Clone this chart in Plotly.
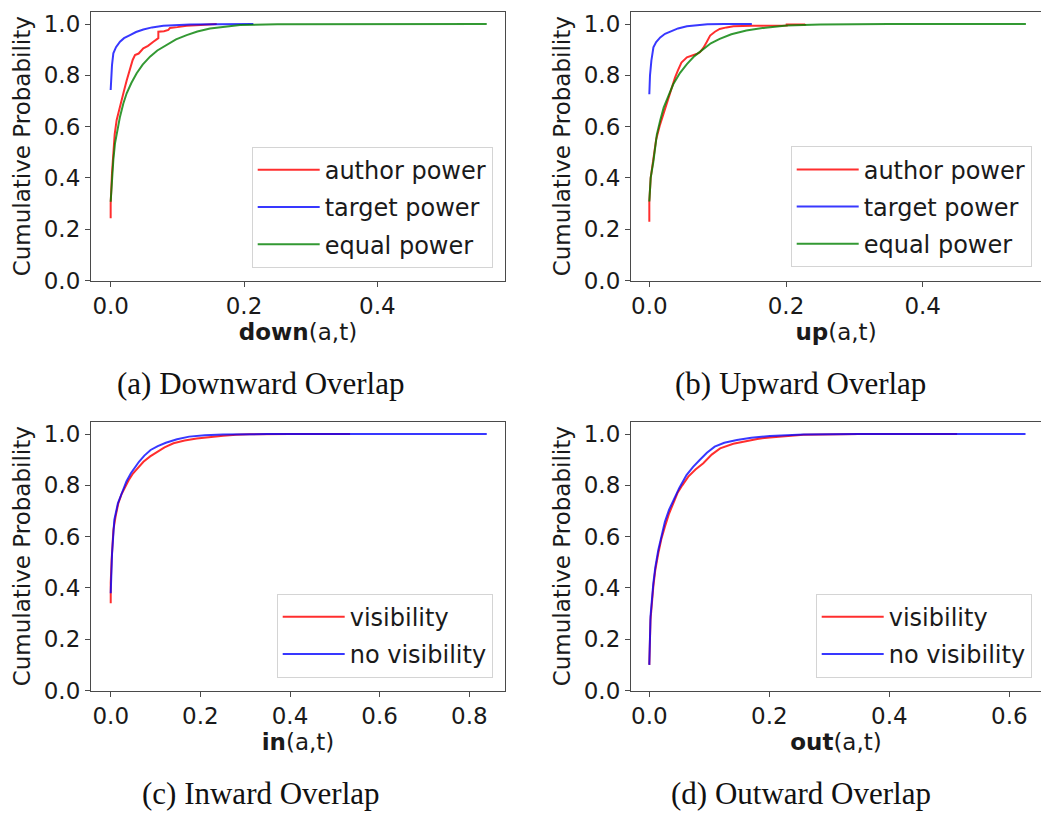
import plotly.graph_objects as go

# ---------------- data ----------------
# (a) Downward overlap
a_author_x = [0, 0, 0.002, 0.004, 0.006, 0.009, 0.012, 0.0165, 0.020, 0.024, 0.029, 0.033, 0.0365, 0.042, 0.049, 0.056, 0.064, 0.0715, 0.0715, 0.080, 0.0865, 0.089, 0.100, 0.114, 0.135, 0.159]
a_author_y = [0.243, 0.30, 0.42, 0.50, 0.57, 0.626, 0.66, 0.704, 0.74, 0.78, 0.827, 0.86, 0.879, 0.885, 0.905, 0.915, 0.931, 0.945, 0.970, 0.972, 0.977, 0.985, 0.988, 0.993, 0.996, 1.0]
a_target_x = [0, 0.001, 0.002, 0.004, 0.008, 0.014, 0.020, 0.029, 0.038, 0.049, 0.062, 0.079, 0.10, 0.119, 0.16, 0.214]
a_target_y = [0.743, 0.80, 0.84, 0.886, 0.91, 0.931, 0.945, 0.957, 0.969, 0.979, 0.987, 0.993, 0.996, 0.998, 0.999, 1.0]
a_equal_x = [0, 0.002, 0.004, 0.0065, 0.010, 0.014, 0.019, 0.024, 0.031, 0.039, 0.048, 0.059, 0.070, 0.084, 0.098, 0.114, 0.130, 0.149, 0.17, 0.194, 0.25, 0.35, 0.45, 0.564]
a_equal_y = [0.307, 0.40, 0.47, 0.535, 0.59, 0.639, 0.69, 0.730, 0.77, 0.808, 0.842, 0.873, 0.897, 0.918, 0.94, 0.957, 0.971, 0.983, 0.99, 0.996, 0.999, 1.0, 1.0, 1.0]

# (b) Upward overlap
b_author_x = [0, 0, 0.002, 0.006, 0.010, 0.0157, 0.022, 0.028, 0.033, 0.0376, 0.042, 0.047, 0.055, 0.062, 0.069, 0.074, 0.079, 0.084, 0.089, 0.096, 0.103, 0.113, 0.123, 0.15, 0.201, 0.201, 0.228, 0.228]
b_author_y = [0.229, 0.308, 0.40, 0.478, 0.55, 0.608, 0.66, 0.713, 0.76, 0.791, 0.82, 0.850, 0.870, 0.875, 0.883, 0.89, 0.907, 0.93, 0.955, 0.97, 0.981, 0.987, 0.991, 0.993, 0.994, 0.998, 0.998, 1.0]
b_target_x = [0, 0.001, 0.003, 0.006, 0.010, 0.016, 0.023, 0.031, 0.042, 0.055, 0.07, 0.085, 0.11, 0.15]
b_target_y = [0.726, 0.80, 0.857, 0.909, 0.93, 0.948, 0.962, 0.972, 0.983, 0.991, 0.996, 0.999, 1.0, 1.0]
b_equal_x = [0, 0.002, 0.006, 0.011, 0.016, 0.021, 0.028, 0.035, 0.045, 0.055, 0.066, 0.079, 0.090, 0.103, 0.12, 0.142, 0.17, 0.201, 0.25, 0.35, 0.45, 0.551]
b_equal_y = [0.308, 0.40, 0.465, 0.569, 0.625, 0.674, 0.72, 0.765, 0.81, 0.844, 0.875, 0.903, 0.925, 0.942, 0.96, 0.975, 0.986, 0.994, 0.998, 1.0, 1.0, 1.0]

# (c) Inward overlap
c_vis_x = [0, 0, 0.002, 0.006, 0.011, 0.017, 0.024, 0.032, 0.040, 0.050, 0.061, 0.073, 0.088, 0.103, 0.120, 0.140, 0.165, 0.192, 0.22, 0.251, 0.28, 0.31, 0.40, 0.534]
c_vis_y = [0.340, 0.42, 0.509, 0.626, 0.68, 0.730, 0.765, 0.795, 0.82, 0.847, 0.87, 0.892, 0.913, 0.931, 0.948, 0.964, 0.975, 0.983, 0.989, 0.993, 0.997, 0.999, 1.0, 1.0]
c_novis_x = [0, 0.001, 0.003, 0.008, 0.016, 0.026, 0.035, 0.045, 0.054, 0.063, 0.075, 0.089, 0.105, 0.123, 0.148, 0.175, 0.21, 0.25, 0.35, 0.5, 0.65, 0.839]
c_novis_y = [0.379, 0.45, 0.535, 0.665, 0.73, 0.775, 0.815, 0.847, 0.872, 0.892, 0.916, 0.938, 0.953, 0.966, 0.98, 0.990, 0.995, 0.998, 1.0, 1.0, 1.0, 1.0]

# (d) Outward overlap
d_vis_x = [0, 0.002, 0.0067, 0.010, 0.015, 0.020, 0.026, 0.033, 0.040, 0.047, 0.055, 0.065, 0.077, 0.090, 0.104, 0.118, 0.14, 0.162, 0.18, 0.201, 0.257, 0.35, 0.513]
d_vis_y = [0.10, 0.275, 0.405, 0.47, 0.535, 0.59, 0.639, 0.69, 0.730, 0.77, 0.80, 0.834, 0.862, 0.886, 0.92, 0.944, 0.962, 0.974, 0.981, 0.987, 0.997, 1.0, 1.0]
d_novis_x = [0, 0.002, 0.0067, 0.010, 0.015, 0.020, 0.026, 0.033, 0.040, 0.050, 0.062, 0.073, 0.084, 0.096, 0.109, 0.125, 0.146, 0.17, 0.201, 0.257, 0.35, 0.5, 0.627]
d_novis_y = [0.10, 0.288, 0.418, 0.48, 0.548, 0.60, 0.658, 0.705, 0.743, 0.79, 0.840, 0.872, 0.899, 0.927, 0.951, 0.966, 0.977, 0.986, 0.992, 0.998, 1.0, 1.0, 1.0]

power_names = ["author power", "target power", "equal power"]
vis_names = ["visibility", "no visibility"]
x_titles = ["<b>down</b>(a,t)", "<b>up</b>(a,t)", "<b>in</b>(a,t)", "<b>out</b>(a,t)"]
captions = ["(a) Downward Overlap", "(b) Upward Overlap", "(c) Inward Overlap", "(d) Outward Overlap"]
y_title = "Cumulative Probability"
y_ticks = [0.0, 0.2, 0.4, 0.6, 0.8, 1.0]

# ---------------- styling ----------------
W, H = 1041, 814
RED = "rgba(255,0,0,0.82)"
BLUE = "rgba(0,0,255,0.78)"
GREEN = "rgba(0,128,0,0.8)"
SANS = "DejaVu Sans"
SERIF = "Liberation Serif"
AX = "#4a4a4a"

def px_x(p):
    return p / W

def px_y(p):
    return 1 - p / H

fig = go.Figure()

panels = [
    ("x", "y", "legend", [(a_author_x, a_author_y, power_names[0], RED),
                          (a_target_x, a_target_y, power_names[1], BLUE),
                          (a_equal_x, a_equal_y, power_names[2], GREEN)]),
    ("x2", "y2", "legend2", [(b_author_x, b_author_y, power_names[0], RED),
                             (b_target_x, b_target_y, power_names[1], BLUE),
                             (b_equal_x, b_equal_y, power_names[2], GREEN)]),
    ("x3", "y3", "legend3", [(c_vis_x, c_vis_y, vis_names[0], RED),
                             (c_novis_x, c_novis_y, vis_names[1], BLUE)]),
    ("x4", "y4", "legend4", [(d_vis_x, d_vis_y, vis_names[0], RED),
                             (d_novis_x, d_novis_y, vis_names[1], BLUE)]),
]

for pi, (xa, ya, lg, series) in enumerate(panels):
    for si, (xs, ys, name, col) in enumerate(series):
        fig.add_trace(go.Scatter(
            x=xs, y=ys, mode="lines", name=name,
            line=dict(color=col, width=2),
            xaxis=xa, yaxis=ya, legend=lg,
            legendgroup=f"p{pi}s{si}", showlegend=True,
        ))

# domains (pixels)
left_dom = [px_x(91), px_x(505)]
right_dom = [px_x(631), 1.0]
top_dom = [px_y(280.5), px_y(12)]
bot_dom = [px_y(690.5), px_y(422)]

x_ranges = [[-0.0295, 0.5914], [-0.0268, 0.5731], [-0.044, 0.8797], [-0.0305, 0.6528]]
x_doms = [left_dom, right_dom, left_dom, right_dom]
y_doms = [top_dom, top_dom, bot_dom, bot_dom]

tickfont = dict(family=SANS, size=23, color="#1a1a1a")
titlefont = dict(family=SANS, size=23, color="#1a1a1a")

layout = dict(
    template="none",
    width=W, height=H,
    margin=dict(l=0, r=0, t=0, b=0, autoexpand=False),
    paper_bgcolor="white", plot_bgcolor="white",
    showlegend=True,
)

for i in range(4):
    xk = "xaxis" if i == 0 else f"xaxis{i+1}"
    yk = "yaxis" if i == 0 else f"yaxis{i+1}"
    xid = "x" if i == 0 else f"x{i+1}"
    yid = "y" if i == 0 else f"y{i+1}"
    right_col = i in (1, 3)
    layout[xk] = dict(
        domain=x_doms[i], anchor=yid, range=x_ranges[i], automargin=False,
        dtick=0.2, tick0=0, tickformat=".1f",
        ticks="outside", ticklen=5, tickwidth=1, tickcolor=AX,
        showline=True, linecolor=AX, linewidth=1.2, mirror=True,
        showgrid=False, zeroline=False, tickfont=tickfont,
        title=dict(text=x_titles[i], font=titlefont, standoff=4),
    )
    layout[yk] = dict(
        domain=y_doms[i], anchor=xid, range=[0, 1.047], automargin=False,
        tickvals=y_ticks, tickformat=".1f",
        ticks="outside", ticklen=5, tickwidth=1, tickcolor=AX,
        showline=True, linecolor=AX, linewidth=1.2, mirror=(not right_col),
        showgrid=False, zeroline=False, tickfont=tickfont,
        title=dict(text=y_title, font=titlefont, standoff=6),
    )

leg_common = dict(
    xanchor="right", yanchor="bottom",
    bgcolor="rgba(255,255,255,0.85)", bordercolor="#d4d4d4", borderwidth=1,
    font=dict(family=SANS, size=24, color="#1a1a1a"),
    tracegroupgap=3, itemwidth=62,
)
layout["legend"] = dict(x=px_x(492.7), y=px_y(267.7), **leg_common)
layout["legend2"] = dict(x=px_x(1031.7), y=px_y(267.3), **leg_common)
layout["legend3"] = dict(x=px_x(492.7), y=px_y(677.7), **leg_common)
layout["legend4"] = dict(x=px_x(1031.7), y=px_y(677.7), **leg_common)

cap_pos = [(261, 383), (800, 383), (261, 793), (801, 793)]
layout["annotations"] = [
    dict(text=captions[i], x=px_x(cx), y=px_y(cy), xref="paper", yref="paper",
         xanchor="center", yanchor="middle", showarrow=False,
         font=dict(family=SERIF, size=31, color="#111"))
    for i, (cx, cy) in enumerate(cap_pos)
]

fig.update_layout(**layout)
fig.write_html(
    "out.html",
    config={"displayModeBar": False},
    post_script="document.body.style.margin='0';document.body.style.padding='0';document.body.style.overflow='hidden';",
)
